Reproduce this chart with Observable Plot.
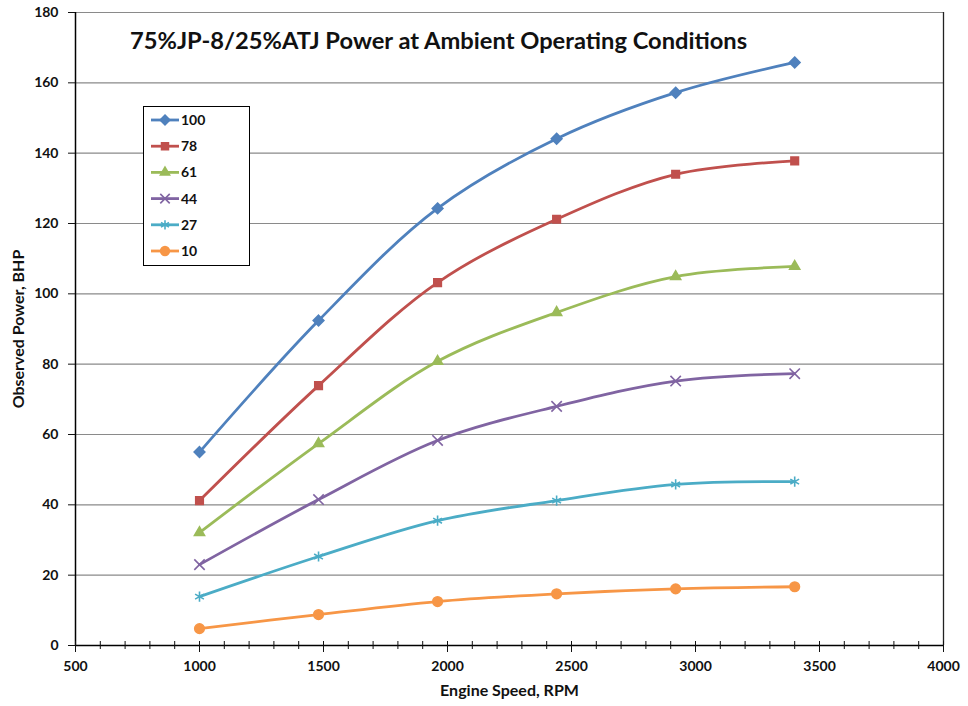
<!DOCTYPE html>
<html><head><meta charset="utf-8">
<script src="https://cdn.jsdelivr.net/npm/d3@7"></script>
<script src="https://cdn.jsdelivr.net/npm/@observablehq/plot@0.6"></script>
<style>
body{margin:0;background:#fff;font-family:Lato,sans-serif}
#wrap{position:relative;width:968px;height:706px;overflow:hidden}
#title{position:absolute;left:130px;top:26px;white-space:nowrap;font-weight:bold;font-size:23.7px;color:#111}
#legend{position:absolute;left:143px;top:106px;width:105px;height:158px;border:1.5px solid #000;background:#fff}
</style></head><body><div id="wrap"></div>
<script>
const speeds = [1000, 1480, 1960, 2440, 2920, 3400];
const seriesNames = ["100", "78", "61", "44", "27", "10"];
const power100 = [55.0, 92.4, 124.3, 144.1, 157.2, 165.8];
const power78 = [41.2, 73.9, 103.2, 121.2, 134.0, 137.8];
const power61 = [32.1, 57.4, 80.8, 94.7, 104.9, 107.8];
const power44 = [23.0, 41.5, 58.3, 68.0, 75.2, 77.3];
const power27 = [13.9, 25.3, 35.5, 41.2, 45.8, 46.6];
const power10 = [4.8, 8.8, 12.5, 14.7, 16.1, 16.7];
const colors = ["#4F81BD", "#C0504D", "#9BBB59", "#8064A2", "#4BACC6", "#F79646"];
const symbols = ["diamond2", "square2", "triangle2", "times", "asterisk", "circle"];
const yTicks = d3.range(0, 181, 20);
const xMajor = d3.range(500, 4001, 500);
const xMinor = d3.range(500, 4001, 100);

const allSeries = [power100, power78, power61, power44, power27, power10];
const data = [];
seriesNames.forEach((name, i) => speeds.forEach((s, j) => data.push({series: name, speed: s, power: allSeries[i][j]})));

const chart = Plot.plot({
  width: 968, height: 706,
  marginLeft: 75, marginRight: 25, marginTop: 12, marginBottom: 61,
  style: {fontFamily: "Lato, sans-serif", fontSize: "14px", fontWeight: "bold", color: "#111", background: "#fff"},
  x: {domain: [500, 4000]},
  y: {domain: [0, 180]},
  color: {domain: seriesNames, range: colors},
  symbol: {domain: seriesNames, range: symbols},
  marks: [
    Plot.ruleY(yTicks.filter(v => v > 0), {stroke: "#8a8a8a", strokeWidth: 1.2}),
    Plot.ruleX([4000], {stroke: "#222", strokeWidth: 1.3}),
    Plot.line(data, {x: "speed", y: "power", z: "series", stroke: "series", strokeWidth: 2.8, curve: "catmull-rom"}),
    Plot.dot(data, {x: "speed", y: "power", symbol: "series", fill: "series", stroke: "series", strokeWidth: 1.6, r: 4.8}),
    Plot.ruleX([500], {stroke: "#000", strokeWidth: 1.5}),
    Plot.ruleY([0], {stroke: "#000", strokeWidth: 1.5}),
    Plot.axisY({ticks: yTicks, tickSize: 7, tickPadding: 10, label: null, fontSize: 14}),
    Plot.axisY({ticks: [], label: "Observed Power, BHP", labelAnchor: "center", labelArrow: "none", labelOffset: 63, fontSize: 16}),
    Plot.axisX({ticks: xMajor, tickSize: 7, tickPadding: 9, tickFormat: d => String(d), label: null, fontSize: 14}),
    Plot.axisX({ticks: [], label: "Engine Speed, RPM", labelAnchor: "center", labelArrow: "none", labelOffset: 50, fontSize: 16}),
    Plot.axisX({ticks: xMinor, tickSize: 4, text: null, label: null}),
    Plot.axisX({ticks: xMinor, tickSize: -4, text: null, label: null})
  ]
});

const wrap = document.getElementById("wrap");
wrap.appendChild(chart);

const title = document.createElement("div");
title.id = "title";
title.textContent = "75%JP-8/25%ATJ Power at Ambient Operating Conditions";
wrap.appendChild(title);

const legend = d3.select(wrap).append("div").attr("id", "legend");
const lsvg = legend.append("svg").attr("width", 105).attr("height", 158);
const d3sym = {diamond2: d3.symbolDiamond2, square2: d3.symbolSquare2, triangle2: d3.symbolTriangle2, times: d3.symbolTimes, asterisk: d3.symbolAsterisk, circle: d3.symbolCircle};
seriesNames.forEach((name, i) => {
  const g = lsvg.append("g").attr("transform", `translate(0,${13 + i * 26.2})`);
  g.append("line").attr("x1", 7).attr("x2", 35).attr("stroke", colors[i]).attr("stroke-width", 2.8);
  g.append("path").attr("transform", "translate(21,0)").attr("d", d3.symbol(d3sym[symbols[i]], 60)())
    .attr("fill", colors[i]).attr("stroke", colors[i]).attr("stroke-width", 1.6);
  g.append("text").attr("x", 37).attr("dy", "0.35em").attr("font-size", 14).attr("font-weight", "bold")
    .attr("fill", "#111").attr("font-family", "Lato, sans-serif").text(name);
});
</script>
</body></html>
